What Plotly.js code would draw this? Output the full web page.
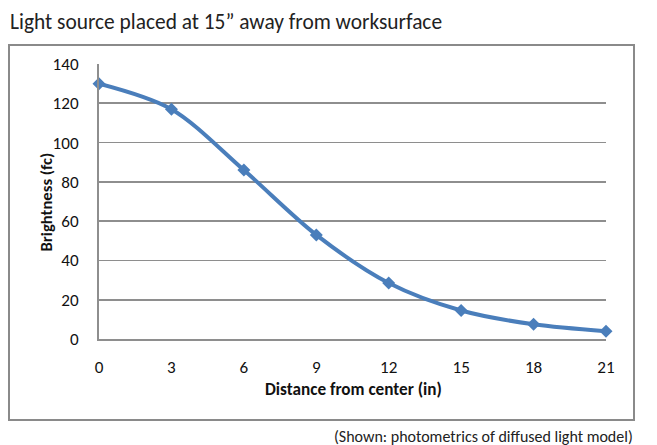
<!DOCTYPE html>
<html>
<head>
<meta charset="utf-8">
<script src="https://cdn.plot.ly/plotly-3.0.1.min.js"></script>
<style>
html,body{margin:0;padding:0;background:#fff;}
#chart{width:657px;height:445px;}
</style>
</head>
<body>
<div id="chart"></div>
<script>
const distance = [0, 3, 6, 9, 12, 15, 18, 21];
const brightness = [130, 117, 86, 53, 28.5, 14.5, 7.5, 4];
const xTicks = [0, 3, 6, 9, 12, 15, 18, 21];
const yTicks = [0, 20, 40, 60, 80, 100, 120, 140];
const titleText = 'Light source placed at 15\u201D away from worksurface';
const xTitle = 'Distance from center (in)';
const yTitle = 'Brightness (fc)';
const footnote = '(Shown: photometrics of diffused light model)';

const FONT = 'Carlito, Lato, "Open Sans", sans-serif';
const W = 657, H = 445;
const M = {l: 99, r: 51, t: 64, b: 106};
const pw = W - M.l - M.r, ph = H - M.t - M.b;
const px = v => (v - M.l) / pw;
const py = v => (H - M.b - v) / ph;

// fit a font size so that the text spans the width measured on the reference
const ctx = document.createElement('canvas').getContext('2d');
function fit(text, width, weight) {
  ctx.font = (weight || 'normal') + ' 20px ' + FONT;
  const w = ctx.measureText(text).width;
  return Math.round(20 * width / w * 10) / 10;
}
const titleSize = fit(titleText, 432);
const footSize = fit(footnote, 298);
const xTitleSize = fit(xTitle, 177, 'bold');
const yTitleSize = fit(yTitle, 99, 'bold');
const tickSize = fit('140', 26);

const trace = {
  x: distance, y: brightness,
  type: 'scatter', mode: 'lines+markers',
  line: {color: '#4A7EBB', width: 4, shape: 'spline', smoothing: 0.9},
  marker: {symbol: 'diamond', size: 10, color: '#4A7EBB'},
  cliponaxis: false,
  hoverinfo: 'skip'
};

const layout = {
  width: W, height: H,
  margin: M,
  paper_bgcolor: '#fff', plot_bgcolor: '#fff',
  showlegend: false,
  font: {family: FONT, size: 12, color: '#111'},
  xaxis: {
    range: [0, 21], tickvals: xTicks, ticktext: xTicks.map(String),
    showgrid: false, zeroline: false,
    showline: true, linecolor: '#8e8e8e', linewidth: 2,
    ticks: '', ticklabelstandoff: 11,
    tickfont: {family: FONT, size: tickSize, color: '#111'}
  },
  yaxis: {
    range: [0, 140], tickvals: yTicks, ticktext: yTicks.map(String),
    showgrid: true, gridcolor: '#8e8e8e', gridwidth: 1.8,
    zeroline: false,
    showline: true, linecolor: '#8e8e8e', linewidth: 2,
    ticks: '', ticklabelstandoff: 15,
    tickfont: {family: FONT, size: tickSize, color: '#111'}
  },
  shapes: [{
    type: 'rect', xref: 'paper', yref: 'paper',
    x0: px(9), x1: px(634), y0: py(420), y1: py(45),
    line: {color: '#8a8a8a', width: 2}, fillcolor: 'rgba(0,0,0,0)', layer: 'below'
  }],
  annotations: [
    {text: titleText, xref: 'paper', yref: 'paper', x: px(8), y: py(22),
     xanchor: 'left', yanchor: 'middle', showarrow: false,
     font: {family: FONT, size: titleSize, color: '#222'}},
    {text: footnote, xref: 'paper', yref: 'paper', x: px(635), y: py(436),
     xanchor: 'right', yanchor: 'middle', showarrow: false,
     font: {family: FONT, size: footSize, color: '#222'}},
    {text: '<b>' + xTitle + '</b>', xref: 'paper', yref: 'paper', x: px(353.5), y: py(389),
     xanchor: 'center', yanchor: 'middle', showarrow: false,
     font: {family: FONT, size: xTitleSize, color: '#111'}},
    {text: '<b>' + yTitle + '</b>', xref: 'paper', yref: 'paper', x: px(45), y: py(202.5),
     xanchor: 'center', yanchor: 'middle', showarrow: false, textangle: -90,
     font: {family: FONT, size: yTitleSize, color: '#111'}}
  ]
};

Plotly.newPlot('chart', [trace], layout, {staticPlot: true, displayModeBar: false});
</script>
</body>
</html>
